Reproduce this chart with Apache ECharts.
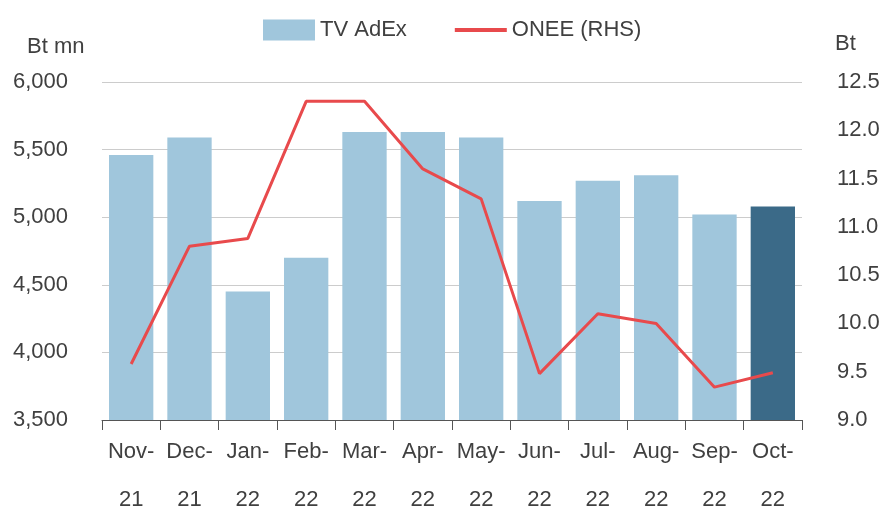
<!DOCTYPE html>
<html>
<head>
<meta charset="utf-8">
<script src="https://cdn.jsdelivr.net/npm/echarts@6/dist/echarts.min.js"></script>
<style>
  html, body { margin: 0; padding: 0; background: #fff; }
  #chart { width: 883px; height: 511px; }
</style>
</head>
<body>
<div id="chart"></div>
<script>
// month labels (two lines: month / year)
var months = ['Nov-', 'Dec-', 'Jan-', 'Feb-', 'Mar-', 'Apr-', 'May-', 'Jun-', 'Jul-', 'Aug-', 'Sep-', 'Oct-'];
var years = ['21', '21', '22', '22', '22', '22', '22', '22', '22', '22', '22', '22'];
// TV AdEx, Bt mn (left axis)
var tvAdex = [5460, 5590, 4450, 4700, 5630, 5630, 5590, 5120, 5270, 5310, 5020, 5080];
// ONEE share price, Bt (right axis)
var onee = [9.58, 10.80, 10.88, 12.30, 12.30, 11.60, 11.29, 9.48, 10.10, 10.00, 9.34, 9.49];

var fontFam = "'Liberation Sans', Arial, sans-serif";
var textColor = '#404040';

var categories = months.map(function (m, i) { return m + '\n' + years[i]; });

var barData = tvAdex.map(function (v, i) {
  if (i === tvAdex.length - 1) {
    return { value: v, itemStyle: { color: '#3b6a88' } };
  }
  return v;
});

var chart = echarts.init(document.getElementById('chart'));
var option = {
  animation: false,
  textStyle: { fontFamily: fontFam },
  legend: {
    top: 14,
    left: 258,
    itemWidth: 52,
    itemHeight: 21,
    itemGap: 46,
    textStyle: { fontSize: 22, color: textColor, fontFamily: fontFam },
    data: [
      { name: 'TV AdEx', icon: 'rect' },
      { name: 'ONEE (RHS)', itemStyle: { opacity: 0 }, lineStyle: { width: 4 } }
    ]
  },
  graphic: [
    { type: 'text', left: 27, top: 36, style: { text: 'Bt mn', fontSize: 22, fill: textColor, fontFamily: fontFam } },
    { type: 'text', left: 835, top: 33, style: { text: 'Bt', fontSize: 22, fill: textColor, fontFamily: fontFam } }
  ],
  grid: { left: 102, right: 81, top: 82, bottom: 91, outerBoundsMode: 'none' },
  xAxis: {
    type: 'category',
    data: categories,
    axisLine: { lineStyle: { color: '#555', width: 1 } },
    axisTick: { show: true, interval: 0, length: 10, lineStyle: { color: '#555' } },
    axisLabel: {
      interval: 0,
      fontSize: 22,
      color: textColor,
      lineHeight: 48,
      margin: 8,
      fontFamily: fontFam
    }
  },
  yAxis: [
    {
      type: 'value',
      min: 3500,
      max: 6000,
      interval: 500,
      axisLine: { show: false },
      axisTick: { show: false },
      splitLine: { lineStyle: { color: '#cccccc' } },
      axisLabel: { fontSize: 22, color: textColor, margin: 34, fontFamily: fontFam }
    },
    {
      type: 'value',
      min: 9.0,
      max: 12.5,
      interval: 0.5,
      axisLine: { show: false },
      axisTick: { show: false },
      splitLine: { show: false },
      axisLabel: {
        fontSize: 22,
        color: textColor,
        margin: 35,
        fontFamily: fontFam,
        formatter: function (v) { return v.toFixed(1); }
      }
    }
  ],
  series: [
    {
      name: 'TV AdEx',
      type: 'bar',
      barCategoryGap: '24%',
      itemStyle: { color: '#a0c6dc' },
      data: barData
    },
    {
      name: 'ONEE (RHS)',
      type: 'line',
      yAxisIndex: 1,
      symbol: 'none',
      lineStyle: { color: '#e84a4c', width: 3 },
      itemStyle: { color: '#e84a4c' },
      data: onee
    }
  ]
};
chart.setOption(option);
</script>
</body>
</html>
